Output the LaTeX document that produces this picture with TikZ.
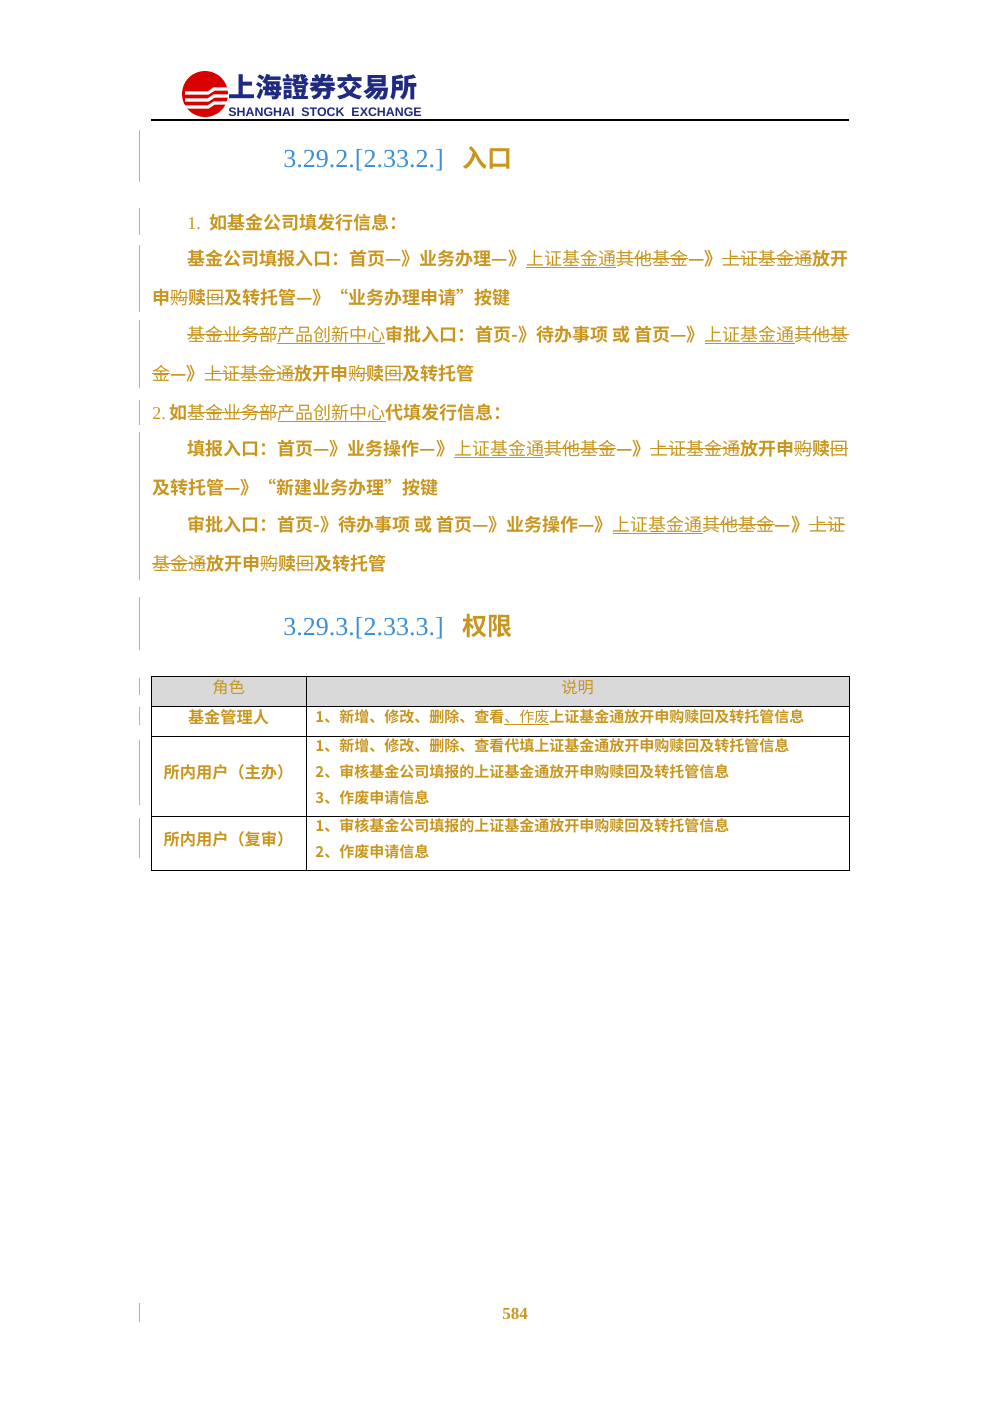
\documentclass[tikz,border=0pt]{standalone}
\usepackage{fontspec}
\setmainfont{Liberation Serif}
\newfontfamily\cjk[BoldFont={Noto Sans CJK SC Bold}]{Noto Sans CJK SC}
\newfontfamily\cjktc{Noto Sans CJK TC}
\newfontfamily\lsans{Liberation Sans}
\definecolor{gold}{HTML}{C8961E}
\definecolor{hblue}{HTML}{3A8FD6}
\definecolor{logoblue}{HTML}{1F2A80}
\definecolor{hdr}{HTML}{D9D9D9}
\newcommand\stk[1]{{\mdseries\setbox0\hbox{#1}\rlap{\vrule height 0.40em depth -0.33em width \wd0}\box0}}
\newcommand\und[1]{{\mdseries\setbox0\hbox{#1}\rlap{\vrule height -0.10em depth 0.16em width \wd0}\box0}}
\tikzset{
 txt/.style={anchor=base west,inner sep=0pt,text=gold,font=\cjk\bfseries\fontsize{9.0}{10}\selectfont},
 tbl/.style={anchor=base west,inner sep=0pt,text=gold,font=\cjk\bfseries\fontsize{7.5}{9}\selectfont},
 tbll/.style={anchor=base,inner sep=0pt,text=gold,font=\cjk\bfseries\fontsize{8.1}{9}\selectfont},
 mbar/.style={draw=gray!60,line width=0.5pt},
}
\begin{document}
\begin{tikzpicture}[x=0.5pt,y=-0.5pt]
\useasboundingbox (0,0) rectangle (1000,1415);
% logo
\fill[red!85!black] (205,94) circle (23);
\foreach \yy in {89,96,103} \draw[white,line width=1.6pt] (185,\yy+4) -- (208,\yy+4) -- (214,\yy) -- (230,\yy);
\node[anchor=base west,inner sep=0pt,text=logoblue,font=\cjktc\bfseries\fontsize{13.5}{14}\selectfont] (lname) at (228,97) {上海證券交易所};
\node[anchor=base west,inner sep=0pt,text=logoblue,font=\lsans\bfseries\fontsize{6.2}{7}\selectfont] (lsub) at (228,116) {SHANGHAI\ \ STOCK\ \ EXCHANGE};
\draw[line width=0.8pt] (151,120) -- (849,120);
% margin bars
\foreach \a/\b in {130/182,208/235,245/312,320/388,400/425,432/580,597/650,678/695,707/725,740/805,818/858,1303/1322}
  \draw[mbar] (139,\a) -- (139,\b);
% heading 1
\node[anchor=base west,inner sep=0pt,text=hblue,font=\fontsize{13}{14}\selectfont] (h1n) at (283,167) {3.29.2.[2.33.2.]};
\node[anchor=base west,inner sep=0pt,text=gold,font=\cjk\bfseries\fontsize{12.5}{14}\selectfont] (h1t) at (462,167) {入口};
% body
\node[txt] (p1) at (187,229) {{\mdseries\fontspec{Liberation Serif}1.}\ \ 如基金公司填发行信息：};
\node[txt] (p2) at (187,265) {基金公司填报入口：首页—》业务办理—》\und{上证基金通}\stk{其他基金}—》\stk{上证基金通}放开};
\node[txt] (p3) at (152,304) {申\stk{购}赎\stk{回}及转托管—》“业务办理申请”按键};
\node[txt] (p4) at (187,341) {\stk{基金业务部}\und{产品创新中心}审批入口：首页-》待办事项\ 或\ 首页—》\und{上证基金通}\stk{其他基}};
\node[txt] (p5) at (152,380) {\stk{金}—》\stk{上证基金通}放开申\stk{购}赎\stk{回}及转托管};
\node[txt] (p6) at (152,419) {{\mdseries\fontspec{Liberation Serif}2.}\ 如\stk{基金业务部}\und{产品创新中心}代填发行信息：};
\node[txt] (p7) at (187,455) {填报入口：首页—》业务操作—》\und{上证基金通}\stk{其他基金}—》\stk{上证基金通}放开申\stk{购}赎\stk{回}};
\node[txt] (p8) at (152,494) {及转托管—》“新建业务办理”按键};
\node[txt] (p9) at (187,531) {审批入口：首页-》待办事项\ 或\ 首页—》业务操作—》\und{上证基金通}\stk{其他基金}—》\stk{上证}};
\node[txt] (p10) at (152,570) {\stk{基金通}放开申\stk{购}赎\stk{回}及转托管};
% heading 2
\node[anchor=base west,inner sep=0pt,text=hblue,font=\fontsize{13}{14}\selectfont] (h2n) at (283,635) {3.29.3.[2.33.3.]};
\node[anchor=base west,inner sep=0pt,text=gold,font=\cjk\bfseries\fontsize{12.5}{14}\selectfont] (h2t) at (462,635) {权限};
% table
\fill[hdr] (151,676) rectangle (849,706);
\draw[line width=0.5pt] (151,676) rectangle (849,870);
\foreach \yy in {706,736,816} \draw[line width=0.5pt] (151,\yy) -- (849,\yy);
\draw[line width=0.5pt] (306,676) -- (306,870);
\node[tbll] (c1) at (228.5,693) {{\mdseries 角色}};
\node[tbll] (c2) at (577.5,693) {{\mdseries 说明}};
\node[tbll] (r1a) at (228.5,723) {基金管理人};
\node[tbl] (r1b) at (315,722) {1、新增、修改、删除、查看\und{、作废}上证基金通放开申购赎回及转托管信息};
\node[tbll] (r2a) at (228.5,778) {所内用户（主办）};
\node[tbl] (r2b) at (315,751) {1、新增、修改、删除、查看代填上证基金通放开申购赎回及转托管信息};
\node[tbl] (r2c) at (315,777) {2、审核基金公司填报的上证基金通放开申购赎回及转托管信息};
\node[tbl] (r2d) at (315,803) {3、作废申请信息};
\node[tbll] (r3a) at (228.5,845) {所内用户（复审）};
\node[tbl] (r3b) at (315,831) {1、审核基金公司填报的上证基金通放开申购赎回及转托管信息};
\node[tbl] (r3c) at (315,857) {2、作废申请信息};
% page number
\node[anchor=base,inner sep=0pt,text=gold,font=\bfseries\fontsize{8.5}{10}\selectfont] (pg) at (515,1319) {584};
\end{tikzpicture}
\end{document}
